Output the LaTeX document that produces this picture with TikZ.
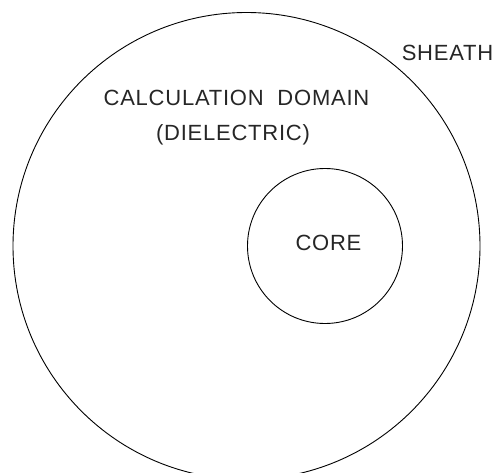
\documentclass[tikz,border=0pt]{standalone}
\usepackage{fontspec}
\setmainfont{Liberation Sans}[LetterSpace=3.5]
\begin{document}
\begin{tikzpicture}[x=1pt,y=-1pt,
  ring/.style={circle,draw=black,line width=0.9pt,inner sep=0pt},
  lbl/.style={inner sep=0pt,font=\fontsize{22}{26}\selectfont,text=black!85}]
\useasboundingbox (0,0) rectangle (496,472);
\clip (0,0) rectangle (496,472);
\node[ring,minimum size=467pt] (sheath) at (246.5,246) {};
\node[ring,minimum size=155pt] (core) at (325,246) {};
\node[lbl] (sheathlbl) at (447.5,53) {SHEATH};
\node[lbl] (domain) at (236.5,98) {CALCULATION\ \ DOMAIN};
\node[lbl] (diel) at (233,135) {(DIELECTRIC)};
\node[lbl] (corelbl) at (328.5,243) {CORE};
\end{tikzpicture}
\end{document}
